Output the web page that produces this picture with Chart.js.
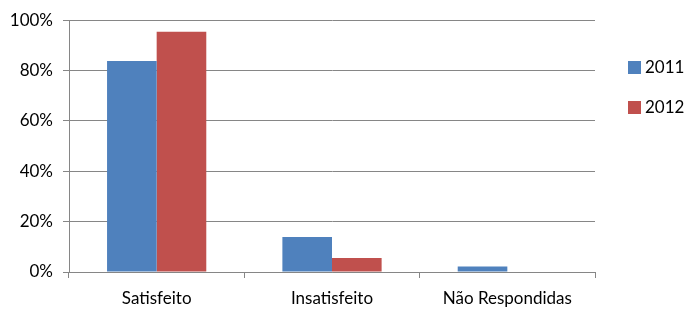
<!DOCTYPE html>
<html>
<head>
<meta charset="utf-8">
<script src="https://cdn.jsdelivr.net/npm/chart.js@4/dist/chart.umd.min.js"></script>
<style>
html,body{margin:0;padding:0;background:#fff;}
#wrap{width:687px;height:313px;position:relative;}
</style>
</head>
<body>
<div id="wrap"><canvas id="c" width="687" height="313"></canvas></div>
<script>
const categories = ["Satisfeito", "Insatisfeito", "Não Respondidas"];
const seriesNames = ["2011", "2012"];
const values2011 = [83.8, 13.9, 2.2];
const values2012 = [95.4, 5.6, 0];
const yTicks = [0, 20, 40, 60, 80, 100];

const FONT = "Lato, 'Liberation Sans', sans-serif";
const colors = ["#4F81BD", "#C0504D"];
const gridColor = "#868686";

const legendPlugin = {
  id: 'sideLegend',
  afterDraw(chart) {
    const ctx = chart.ctx;
    ctx.save();
    ctx.font = "17px " + FONT;
    ctx.textBaseline = "middle";
    ctx.textAlign = "left";
    chart.data.datasets.forEach((ds, i) => {
      const cy = 68 + i * 40;
      ctx.fillStyle = ds.backgroundColor;
      ctx.fillRect(628, cy - 7, 13, 13);
      ctx.fillStyle = "#000";
      ctx.fillText(ds.label, 645, cy);
    });
    ctx.restore();
  }
};

new Chart(document.getElementById('c'), {
  type: 'bar',
  data: {
    labels: categories,
    datasets: [
      { label: seriesNames[0], data: values2011, backgroundColor: colors[0] },
      { label: seriesNames[1], data: values2012, backgroundColor: colors[1] }
    ]
  },
  options: {
    responsive: false,
    animation: false,
    devicePixelRatio: 1,
    layout: { padding: { top: 16, right: 92, left: 0, bottom: 0 } },
    plugins: { legend: { display: false }, tooltip: { enabled: false } },
    datasets: { bar: { categoryPercentage: 0.566, barPercentage: 1.0 } },
    scales: {
      x: {
        grid: { display: true, drawOnChartArea: false, drawTicks: true, tickLength: 6, color: gridColor, offset: true },
        border: { color: gridColor, width: 1 },
        ticks: { color: "#000", font: { family: FONT, size: 17 }, padding: 10, maxRotation: 0 },
        afterFit(scale) { scale.height = 41; }
      },
      y: {
        min: 0, max: 100,
        afterBuildTicks(scale) { scale.ticks = yTicks.map(v => ({ value: v })); },
        grid: { color: gridColor, lineWidth: 1, tickLength: 6, drawTicks: true },
        border: { color: gridColor, width: 1 },
        ticks: { color: "#000", font: { family: FONT, size: 17 }, padding: 10, callback: v => v + "%" },
        afterFit(scale) { scale.width = 69; }
      }
    }
  },
  plugins: [legendPlugin]
});
</script>
</body>
</html>
